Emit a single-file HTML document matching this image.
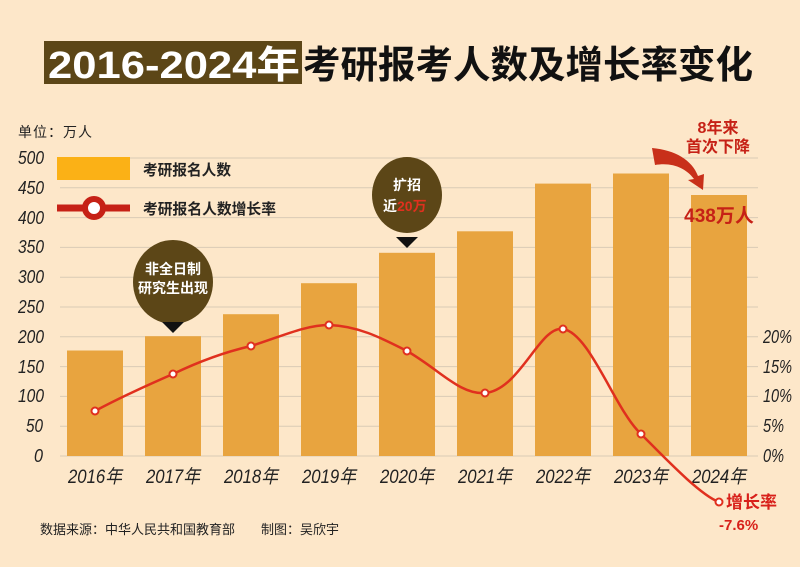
<!DOCTYPE html>
<html><head><meta charset="utf-8"><style>
body{margin:0;width:800px;height:567px;overflow:hidden;background:#fde7c9;}
svg{display:block}
text{font-family:"Liberation Sans","Noto Sans CJK SC",sans-serif;}
</style></head><body>
<svg width="800" height="567" viewBox="0 0 800 567">
<rect width="800" height="567" fill="#fde7c9"/>
<rect x="44" y="41" width="258" height="43" fill="#5c4617"/>
<text x="48" y="78" font-size="38" font-weight="bold" fill="#fff" textLength="252" lengthAdjust="spacingAndGlyphs">2016-2024年</text>
<text x="303" y="78" font-size="38" font-weight="bold" fill="#111" textLength="450" lengthAdjust="spacingAndGlyphs">考研报考人数及增长率变化</text>
<text x="18" y="137" font-size="14" fill="#222" textLength="74">单位：万人</text>
<g stroke="#d9cbb5" stroke-width="1">
<line x1="60" x2="758" y1="158" y2="158"/><line x1="60" x2="758" y1="187.8" y2="187.8"/><line x1="60" x2="758" y1="217.6" y2="217.6"/><line x1="60" x2="758" y1="247.4" y2="247.4"/><line x1="60" x2="758" y1="277.2" y2="277.2"/><line x1="60" x2="758" y1="307" y2="307"/><line x1="60" x2="758" y1="336.8" y2="336.8"/><line x1="60" x2="758" y1="366.6" y2="366.6"/><line x1="60" x2="758" y1="396.4" y2="396.4"/><line x1="60" x2="758" y1="426.2" y2="426.2"/><line x1="60" x2="758" y1="456" y2="456"/>
</g>
<g font-size="18" fill="#222" font-style="italic">
<text x="18" y="164" textLength="26" lengthAdjust="spacingAndGlyphs">500</text><text x="18" y="194" textLength="26" lengthAdjust="spacingAndGlyphs">450</text><text x="18" y="224" textLength="26" lengthAdjust="spacingAndGlyphs">400</text><text x="18" y="253" textLength="26" lengthAdjust="spacingAndGlyphs">350</text><text x="18" y="283" textLength="26" lengthAdjust="spacingAndGlyphs">300</text><text x="18" y="313" textLength="26" lengthAdjust="spacingAndGlyphs">250</text><text x="18" y="343" textLength="26" lengthAdjust="spacingAndGlyphs">200</text><text x="18" y="373" textLength="26" lengthAdjust="spacingAndGlyphs">150</text><text x="18" y="402" textLength="26" lengthAdjust="spacingAndGlyphs">100</text><text x="26" y="432" textLength="17" lengthAdjust="spacingAndGlyphs">50</text><text x="34" y="462" textLength="9" lengthAdjust="spacingAndGlyphs">0</text>
</g>
<g font-size="18" fill="#222" font-style="italic">
<text x="763" y="343" textLength="29" lengthAdjust="spacingAndGlyphs">20%</text><text x="763" y="373" textLength="29" lengthAdjust="spacingAndGlyphs">15%</text><text x="763" y="402" textLength="29" lengthAdjust="spacingAndGlyphs">10%</text><text x="763" y="432" textLength="21" lengthAdjust="spacingAndGlyphs">5%</text><text x="763" y="462" textLength="21" lengthAdjust="spacingAndGlyphs">0%</text>
</g>
<g fill="#e8a43f">
<rect x="67" y="350.5" width="56" height="105.5"/>
<rect x="145" y="336.2" width="56" height="119.8"/>
<rect x="223" y="314.2" width="56" height="141.8"/>
<rect x="301" y="283.2" width="56" height="172.8"/>
<rect x="379" y="252.8" width="56" height="203.2"/>
<rect x="457" y="231.3" width="56" height="224.7"/>
<rect x="535" y="183.6" width="56" height="272.4"/>
<rect x="613" y="173.5" width="56" height="282.5"/>
<rect x="691" y="195" width="56" height="261"/>
</g>
<g font-size="19" fill="#222" font-style="italic">
<text x="68" y="483" textLength="54" lengthAdjust="spacingAndGlyphs">2016年</text><text x="146" y="483" textLength="54" lengthAdjust="spacingAndGlyphs">2017年</text><text x="224" y="483" textLength="54" lengthAdjust="spacingAndGlyphs">2018年</text><text x="302" y="483" textLength="54" lengthAdjust="spacingAndGlyphs">2019年</text><text x="380" y="483" textLength="54" lengthAdjust="spacingAndGlyphs">2020年</text><text x="458" y="483" textLength="54" lengthAdjust="spacingAndGlyphs">2021年</text><text x="536" y="483" textLength="54" lengthAdjust="spacingAndGlyphs">2022年</text><text x="614" y="483" textLength="54" lengthAdjust="spacingAndGlyphs">2023年</text><text x="692" y="483" textLength="54" lengthAdjust="spacingAndGlyphs">2024年</text>
</g>
<path d="M95,411 C125,395 150,384 173,374 C200,361 225,352 251,346 C280,337 305,325 329,325 C360,326 385,340 407,351 C440,370 460,395 485,393 C520,390 540,325 563,329 C590,333 615,410 641,434 C665,458 700,495 719,502" fill="none" stroke="#e0301e" stroke-width="2.5"/>
<g fill="#fff" stroke="#e0301e" stroke-width="2">
<circle cx="95" cy="411" r="3.5"/><circle cx="173" cy="374" r="3.5"/><circle cx="251" cy="346" r="3.5"/><circle cx="329" cy="325" r="3.5"/><circle cx="407" cy="351" r="3.5"/><circle cx="485" cy="393" r="3.5"/><circle cx="563" cy="329" r="3.5"/><circle cx="641" cy="434" r="3.5"/><circle cx="719" cy="502" r="3.5"/>
</g>
<text x="726" y="508" font-size="17" font-weight="bold" fill="#d8201a">增长率</text>
<text x="719" y="530" font-size="15" font-weight="bold" fill="#d8201a">-7.6%</text>
<rect x="57" y="157" width="73" height="23" fill="#fbb116"/>
<text x="143" y="175" font-size="15" font-weight="bold" fill="#222" textLength="88" lengthAdjust="spacingAndGlyphs">考研报名人数</text>
<line x1="57" y1="208" x2="130" y2="208" stroke="#c62116" stroke-width="7"/>
<circle cx="94" cy="208" r="9" fill="#fff" stroke="#c62116" stroke-width="6"/>
<text x="143" y="214" font-size="15" font-weight="bold" fill="#222" textLength="133" lengthAdjust="spacingAndGlyphs">考研报名人数增长率</text>
<ellipse cx="173" cy="282" rx="40" ry="42" fill="#5c4617"/>
<text x="173" y="274" font-size="14" font-weight="bold" fill="#fff" text-anchor="middle">非全日制</text>
<text x="173" y="293" font-size="14" font-weight="bold" fill="#fff" text-anchor="middle">研究生出现</text>
<path d="M162,322 L184,322 L173,333 Z" fill="#111"/>
<ellipse cx="407" cy="195" rx="35" ry="38" fill="#5c4617"/>
<text x="407" y="190" font-size="14" font-weight="bold" fill="#fff" text-anchor="middle">扩招</text>
<text x="383" y="211" font-size="14" font-weight="bold" fill="#fff">近<tspan fill="#e0301e">20万</tspan></text>
<path d="M396,237 L418,237 L407,248 Z" fill="#111"/>
<text x="718" y="133" font-size="16" font-weight="bold" fill="#c62116" text-anchor="middle">8年来</text>
<text x="718" y="152" font-size="16" font-weight="bold" fill="#c62116" text-anchor="middle">首次下降</text>
<path d="M652,148 C675,150 692,160 698,176 L704,174 L703,190 L688,180 L694,179 C686,168 672,162 655,165 Z" fill="#c8301a"/>
<text x="719" y="222" font-size="19" font-weight="bold" fill="#c62116" text-anchor="middle">438万人</text>
<text x="40" y="534" font-size="13" fill="#222">数据来源：中华人民共和国教育部　　制图：吴欣宇</text>
</svg>
</body></html>
